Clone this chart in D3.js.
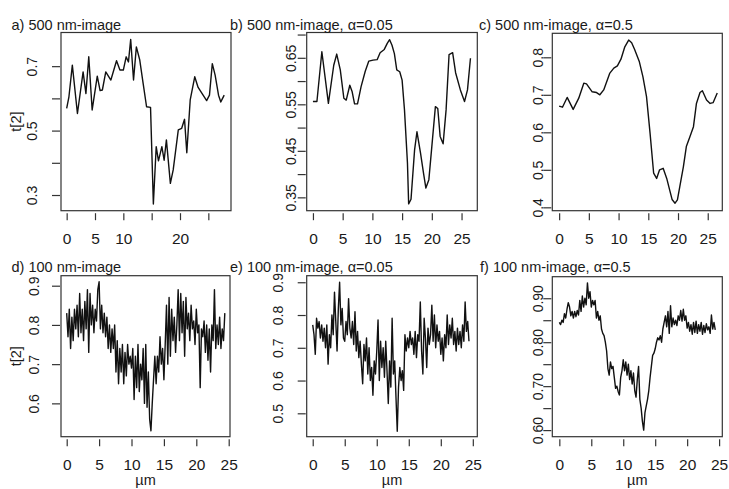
<!DOCTYPE html>
<html>
<head>
<meta charset="utf-8">
<script src="https://cdn.jsdelivr.net/npm/d3@7"></script>
<style>
  body { margin: 0; background: #fff; }
  text { font-family: "Liberation Sans", Arial, sans-serif; fill: #1a1a1a; }
</style>
</head>
<body>
<div id="chart"></div>
<script>
// ---- data ----
const titles = [
  "a) 500 nm-image",
  "b) 500 nm-image, \u03b1=0.05",
  "c) 500 nm-image, \u03b1=0.5",
  "d) 100 nm-image",
  "e) 100 nm-image, \u03b1=0.05",
  "f) 100 nm-image, \u03b1=0.5"
];

// 500 nm profiles: position (µm) and t[2]
const a500x = [0, 0.4, 1.0, 1.9, 2.9, 3.4, 3.9, 4.5, 5.4, 5.9, 6.3, 6.9, 7.8, 8.8, 9.4, 10.0, 10.5, 10.9, 11.3, 11.8,
               12.3, 12.9, 13.5, 14.1, 14.8, 15.3, 15.8, 16.2, 16.8, 17.2, 17.6, 18.3, 18.8, 19.7, 20.3, 20.8, 21.2, 21.8, 22.6, 23.2,
               24.7, 25.2, 25.7, 26.2, 26.8, 27.2, 27.8];
const a500y = [0.569, 0.605, 0.703, 0.553, 0.682, 0.615, 0.729, 0.564, 0.669, 0.624, 0.626, 0.682, 0.657, 0.717, 0.688, 0.688, 0.729, 0.713, 0.783, 0.657,
               0.760, 0.719, 0.646, 0.574, 0.572, 0.272, 0.450, 0.406, 0.450, 0.408, 0.471, 0.336, 0.378, 0.502, 0.507, 0.535, 0.431, 0.595, 0.667, 0.634,
               0.593, 0.610, 0.708, 0.672, 0.610, 0.589, 0.610];

const b500x = [0, 0.67, 1.5, 2.6, 3.5, 4.0, 4.6, 5.2, 5.6, 6.2, 6.6, 7.0, 7.5, 8.1, 8.8, 9.4, 10.1, 10.8, 11.3, 12.0,
               12.5, 12.9, 13.3, 13.7, 14.1, 14.6, 15.0, 15.4, 15.9, 16.1, 16.5, 17.1, 17.5, 18.1, 18.6, 19.0, 19.5, 20.0, 20.6, 21.0,
               21.4, 21.9, 22.4, 22.9, 23.5, 24.0, 24.8, 25.5, 26.0, 26.5];
const b500y = [0.556, 0.556, 0.663, 0.552, 0.634, 0.658, 0.624, 0.563, 0.559, 0.591, 0.577, 0.551, 0.551, 0.588, 0.621, 0.643, 0.645, 0.646, 0.661, 0.668,
               0.681, 0.689, 0.677, 0.659, 0.624, 0.620, 0.602, 0.538, 0.424, 0.336, 0.346, 0.452, 0.491, 0.445, 0.402, 0.370, 0.388, 0.459, 0.545, 0.541,
               0.481, 0.465, 0.538, 0.657, 0.661, 0.618, 0.581, 0.556, 0.581, 0.649];

const c500x = [0, 0.56, 1.35, 2.36, 3.3, 4.15, 4.6, 5.56, 6.3, 6.85, 7.5, 8.5, 9.2, 9.8, 10.4, 11.05, 11.7, 12.2, 12.7, 13.5,
               14.1, 14.7, 15.3, 15.9, 16.4, 16.9, 17.5, 18.1, 18.6, 19.0, 19.5, 19.9, 20.3, 20.9, 21.4, 22.0, 22.6, 23.1, 23.7, 24.1,
               24.8, 25.4, 25.9, 26.6];
const c500y = [0.670, 0.667, 0.693, 0.661, 0.691, 0.731, 0.729, 0.708, 0.706, 0.700, 0.713, 0.757, 0.771, 0.777, 0.795, 0.828, 0.846, 0.839, 0.821, 0.788,
               0.748, 0.695, 0.597, 0.491, 0.477, 0.500, 0.504, 0.477, 0.446, 0.421, 0.411, 0.420, 0.455, 0.508, 0.562, 0.588, 0.615, 0.677, 0.706, 0.711,
               0.686, 0.677, 0.679, 0.705];

// 100 nm profiles, one value every 0.2 µm starting at 0
const step100 = 0.2;
const d100 = [0.83, 0.77, 0.84, 0.74, 0.82, 0.76, 0.84, 0.79, 0.85, 0.77, 0.88, 0.78, 0.84, 0.76, 0.86, 0.79, 0.89, 0.73, 0.88, 0.80,
              0.85, 0.78, 0.84, 0.81, 0.89, 0.91, 0.79, 0.85, 0.78, 0.83, 0.77, 0.82, 0.74, 0.80, 0.73, 0.79, 0.74, 0.80, 0.68, 0.76,
              0.65, 0.74, 0.68, 0.75, 0.65, 0.73, 0.67, 0.75, 0.70, 0.72, 0.69, 0.74, 0.61, 0.72, 0.64, 0.75, 0.63, 0.70, 0.66, 0.74,
              0.60, 0.75, 0.59, 0.68, 0.56, 0.53, 0.60, 0.66, 0.72, 0.65, 0.72, 0.68, 0.77, 0.70, 0.74, 0.66, 0.75, 0.85, 0.70, 0.87,
              0.72, 0.84, 0.76, 0.82, 0.73, 0.80, 0.89, 0.76, 0.88, 0.78, 0.86, 0.72, 0.87, 0.79, 0.83, 0.76, 0.85, 0.79, 0.81, 0.75,
              0.84, 0.78, 0.80, 0.64, 0.79, 0.77, 0.81, 0.73, 0.80, 0.71, 0.79, 0.68, 0.80, 0.76, 0.89, 0.74, 0.80, 0.75, 0.82, 0.74,
              0.79, 0.76, 0.83];
const e100 = [0.77, 0.74, 0.68, 0.79, 0.76, 0.78, 0.73, 0.77, 0.72, 0.76, 0.70, 0.77, 0.65, 0.74, 0.70, 0.80, 0.74, 0.87, 0.78, 0.69,
              0.82, 0.90, 0.77, 0.82, 0.73, 0.72, 0.78, 0.74, 0.85, 0.76, 0.73, 0.78, 0.71, 0.81, 0.69, 0.75, 0.67, 0.72, 0.65, 0.59,
              0.71, 0.66, 0.73, 0.62, 0.70, 0.60, 0.64, 0.555, 0.66, 0.62, 0.69, 0.785, 0.60, 0.72, 0.64, 0.70, 0.61, 0.72, 0.63, 0.53,
              0.66, 0.58, 0.79, 0.62, 0.66, 0.55, 0.445, 0.58, 0.64, 0.60, 0.63, 0.57, 0.74, 0.69, 0.73, 0.70, 0.75, 0.71, 0.73, 0.68,
              0.75, 0.67, 0.74, 0.72, 0.84, 0.69, 0.62, 0.79, 0.73, 0.64, 0.76, 0.71, 0.74, 0.83, 0.72, 0.80, 0.70, 0.77, 0.72, 0.75,
              0.68, 0.73, 0.66, 0.74, 0.70, 0.80, 0.71, 0.77, 0.73, 0.79, 0.71, 0.75, 0.69, 0.76, 0.71, 0.75, 0.70, 0.77, 0.72, 0.84,
              0.75, 0.78, 0.72];
const f100 = [0.845, 0.840, 0.850, 0.845, 0.865, 0.855, 0.875, 0.890, 0.880, 0.860, 0.870, 0.855, 0.870, 0.858, 0.872, 0.862, 0.895, 0.870, 0.905, 0.880,
              0.900, 0.885, 0.935, 0.900, 0.915, 0.880, 0.895, 0.885, 0.895, 0.855, 0.870, 0.850, 0.860, 0.830, 0.820, 0.815, 0.800, 0.780, 0.740, 0.725,
              0.755, 0.740, 0.745, 0.720, 0.695, 0.700, 0.688, 0.680, 0.720, 0.735, 0.760, 0.735, 0.755, 0.725, 0.750, 0.715, 0.735, 0.705, 0.730, 0.690,
              0.675, 0.715, 0.745, 0.670, 0.650, 0.620, 0.600, 0.640, 0.655, 0.670, 0.690, 0.720, 0.745, 0.770, 0.775, 0.785, 0.800, 0.810, 0.805, 0.815,
              0.800, 0.830, 0.845, 0.860, 0.835, 0.870, 0.820, 0.883, 0.835, 0.855, 0.840, 0.850, 0.838, 0.860, 0.850, 0.872, 0.848, 0.875, 0.850, 0.860,
              0.832, 0.845, 0.825, 0.840, 0.818, 0.845, 0.822, 0.848, 0.820, 0.840, 0.825, 0.845, 0.818, 0.838, 0.822, 0.842, 0.828, 0.835, 0.820, 0.862,
              0.830, 0.845, 0.828];

// axis ticks and labels
const xTicks = [0, 5, 10, 15, 20, 25];
const xLabelsA = ["0", "5", "10", "", "20", ""];
const xLabels = ["0", "5", "10", "15", "20", "25"];
const yTicksA = [0.3, 0.4, 0.5, 0.6, 0.7];
const yLabelsA = ["0.3", "", "0.5", "", "0.7"];
const yTicksB = [0.35, 0.40, 0.45, 0.50, 0.55, 0.60, 0.65, 0.70];
const yLabelsB = ["0.35", "", "0.45", "", "0.55", "", "0.65", ""];
const yTicksC = [0.4, 0.5, 0.6, 0.7, 0.8];
const yLabelsC = ["0.4", "0.5", "0.6", "0.7", "0.8"];
const yTicksD = [0.6, 0.7, 0.8, 0.9];
const yLabelsD = ["0.6", "0.7", "0.8", "0.9"];
const yTicksE = [0.5, 0.6, 0.7, 0.8, 0.9];
const yLabelsE = ["0.5", "0.6", "0.7", "0.8", "0.9"];
const yTicksF = [0.60, 0.65, 0.70, 0.75, 0.80, 0.85, 0.90];
const yLabelsF = ["0.60", "", "0.70", "", "0.80", "", "0.90"];

const yTitle = "t[2]";
const xTitle = "\u00b5m";

// ---- layout ----
const config = {
  width      : 729,
  height     : 489,
  lineColor  : "#111",
  lineWidth  : 1.4,
  boxColor   : "#333",
  titleSize  : "14.5px",
  xTickSize  : "15.5px",
  yTickSize  : "14px",
  axisTitle  : "14.5px",
};

const idx = arr => arr.map((v, i) => i * step100);

const panels = [
  { title: titles[0], xs: a500x, ys: a500y, box: [61, 32.5, 231, 210.7], xDom: [-1.0, 29.0], yDom: [0.2513, 0.8045],
    xTicks: xTicks, xLabels: xLabelsA, yTicks: yTicksA, yLabels: yLabelsA, titleX: 11.5, titleY: 29.5, yLabOff: 24, yTitle: true },
  { title: titles[1], xs: b500x, ys: b500y, box: [306.7, 32.5, 477.3, 210.7], xDom: [-1.05, 27.65], yDom: [0.3213, 0.7044],
    xTicks: xTicks, xLabels: xLabels, yTicks: yTicksB, yLabels: yLabelsB, titleX: 230, titleY: 29.5, yLabOff: 10.5 },
  { title: titles[2], xs: c500x, ys: c500y, box: [552.3, 33.3, 722.3, 210.7], xDom: [-1.15, 27.45], yDom: [0.391, 0.864],
    xTicks: xTicks, xLabels: xLabels, yTicks: yTicksC, yLabels: yLabelsC, titleX: 479, titleY: 29.5, yLabOff: 9.5 },
  { title: titles[3], xs: idx(d100), ys: d100, box: [61, 275.7, 230, 436.7], xDom: [-0.88, 25.2], yDom: [0.515, 0.9255],
    xTicks: xTicks, xLabels: xLabels, yTicks: yTicksD, yLabels: yLabelsD, titleX: 11.5, titleY: 272.3, yLabOff: 22, yTitle: true, xTitle: true },
  { title: titles[4], xs: idx(e100), ys: e100, box: [306.7, 275.7, 477.3, 436.7], xDom: [-0.94, 25.7], yDom: [0.4286, 0.920],
    xTicks: xTicks, xLabels: xLabels, yTicks: yTicksE, yLabels: yLabelsE, titleX: 230, titleY: 272.3, yLabOff: 23.5, xTitle: true },
  { title: titles[5], xs: idx(f100), ys: f100, box: [552.3, 276.7, 722.3, 436.7], xDom: [-1.1, 25.5], yDom: [0.585, 0.949],
    xTicks: xTicks, xLabels: xLabels, yTicks: yTicksF, yLabels: yLabelsF, titleX: 480, titleY: 272.3, yLabOff: 9.5, xTitle: true },
];

const svg = d3.select("#chart")
  .append("svg")
    .attr("width", config.width)
    .attr("height", config.height);

panels.forEach(function (p) {
  const [x0, y0, x1, y1] = p.box;
  const x = d3.scaleLinear().domain(p.xDom).range([x0, x1]);
  const y = d3.scaleLinear().domain(p.yDom).range([y1, y0]);
  const g = svg.append("g");

  // profile line
  const line = d3.line()
    .x(d => x(d[0]))
    .y(d => y(d[1]));
  g.append("path")
    .datum(d3.zip(p.xs, p.ys))
    .attr("d", line)
    .attr("fill", "none")
    .attr("stroke", config.lineColor)
    .attr("stroke-width", config.lineWidth)
    .attr("stroke-linejoin", "round");

  // frame
  g.append("rect")
    .attr("x", x0).attr("y", y0)
    .attr("width", x1 - x0).attr("height", y1 - y0)
    .attr("fill", "none")
    .attr("stroke", config.boxColor)
    .attr("stroke-width", 1.2);

  // x axis (ticks sit a little below the frame, like the figure)
  const xAxis = g.append("g")
    .attr("transform", "translate(0," + (y1 + 2.5) + ")")
    .call(d3.axisBottom(x)
      .tickValues(p.xTicks)
      .tickFormat((d, i) => p.xLabels[i])
      .tickSize(7)
      .tickPadding(13));
  xAxis.select(".domain").remove();
  xAxis.selectAll("line").attr("stroke", config.boxColor).attr("stroke-width", 1.2);
  xAxis.selectAll("text")
    .attr("font-family", null)
    .style("font-size", config.xTickSize)
    .attr("fill", "#1a1a1a");

  // y axis, rotated labels
  const yAxis = g.append("g")
    .attr("transform", "translate(" + (x0 - 1) + ",0)")
    .call(d3.axisLeft(y)
      .tickValues(p.yTicks)
      .tickFormat((d, i) => p.yLabels[i])
      .tickSize(8));
  yAxis.select(".domain").remove();
  yAxis.selectAll("line").attr("stroke", config.boxColor).attr("stroke-width", 1.2);
  yAxis.selectAll("text")
    .attr("font-family", null)
    .style("font-size", config.yTickSize)
    .attr("fill", "#1a1a1a")
    .attr("transform", "rotate(-90)")
    .attr("x", 0)
    .attr("y", -(p.yLabOff - 1))
    .attr("dy", 0)
    .attr("text-anchor", "middle");

  // panel title
  g.append("text")
    .attr("x", p.titleX)
    .attr("y", p.titleY)
    .style("font-size", config.titleSize)
    .text(p.title);

  if (p.yTitle) {
    g.append("text")
      .attr("transform", "translate(" + 21 + "," + ((y0 + y1) / 2) + ") rotate(-90)")
      .attr("text-anchor", "middle")
      .style("font-size", config.axisTitle)
      .text(yTitle);
  }
  if (p.xTitle) {
    g.append("text")
      .attr("x", (x0 + x1) / 2)
      .attr("y", 485)
      .attr("text-anchor", "middle")
      .style("font-size", config.axisTitle)
      .text(xTitle);
  }
});
</script>
</body>
</html>
